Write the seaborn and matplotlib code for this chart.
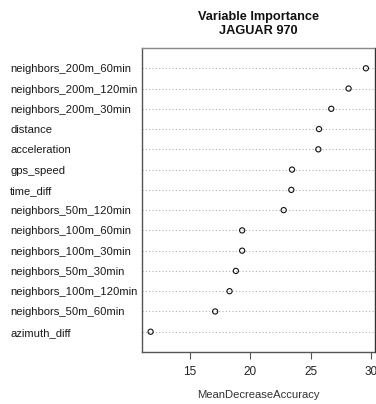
import matplotlib
matplotlib.use("Agg")
import matplotlib.pyplot as plt
import seaborn as sns
import pandas as pd

# Random-forest variable importance (mean decrease in accuracy), highest first
variables = [
    "neighbors_200m_60min",
    "neighbors_200m_120min",
    "neighbors_200m_30min",
    "distance",
    "acceleration",
    "gps_speed",
    "time_diff",
    "neighbors_50m_120min",
    "neighbors_100m_60min",
    "neighbors_100m_30min",
    "neighbors_50m_30min",
    "neighbors_100m_120min",
    "neighbors_50m_60min",
    "azimuth_diff",
]
importance = [29.56, 28.13, 26.70, 25.69, 25.63, 23.46, 23.40,
              22.77, 19.34, 19.34, 18.82, 18.30, 17.11, 11.78]
x_ticks = [15, 20, 25, 30]

df = pd.DataFrame({"variable": variables, "MeanDecreaseAccuracy": importance})

sns.set_theme(style="white")
plt.rcParams["font.family"] = ["Liberation Sans", "DejaVu Sans"]

W, H = 376, 404
fig = plt.figure(figsize=(W / 100, H / 100), dpi=100)
ax = fig.add_axes([142 / W, 52 / H, (374.5 - 142) / W, (352 - 48) / H])

sns.scatterplot(data=df, x="MeanDecreaseAccuracy", y="variable", ax=ax,
                marker="o", s=14, facecolor="none", edgecolor="#111111",
                linewidth=0.8, zorder=3)

n = len(variables)
ax.set_ylim(n, -1)
lo, hi = min(importance), max(importance)
span = hi - lo
ax.set_xlim(lo - 0.04 * span, hi + 0.04 * span)
ax.set_xticks(x_ticks)

# dotted guide lines across each row
ax.yaxis.grid(True, linestyle=(0, (1, 2)), color="#b0b0b0", linewidth=0.8)
ax.xaxis.grid(False)
ax.set_axisbelow(True)

for sp in ax.spines.values():
    sp.set_visible(True)
    sp.set_color("#555555")
    sp.set_linewidth(1.0)
ax.spines["top"].set_color("#888888")
ax.spines["right"].set_color("#333333")

ax.tick_params(axis="y", length=0, pad=95, labelsize=8.1, labelcolor="#1a1a1a")
for lbl in ax.get_yticklabels():
    lbl.set_horizontalalignment("left")
ax.tick_params(axis="x", bottom=True, length=5, width=0.8, color="#555555",
               pad=5, labelsize=8.5, labelcolor="#222222")

ax.set_ylabel("")
ax.set_xlabel("MeanDecreaseAccuracy", fontsize=8.1, color="#333333", labelpad=9)
ax.set_title("Variable Importance\nJAGUAR 970", fontsize=9.2, fontweight="bold",
             color="#111111", pad=10, linespacing=1.2)

fig.savefig("out.png", dpi=100)
